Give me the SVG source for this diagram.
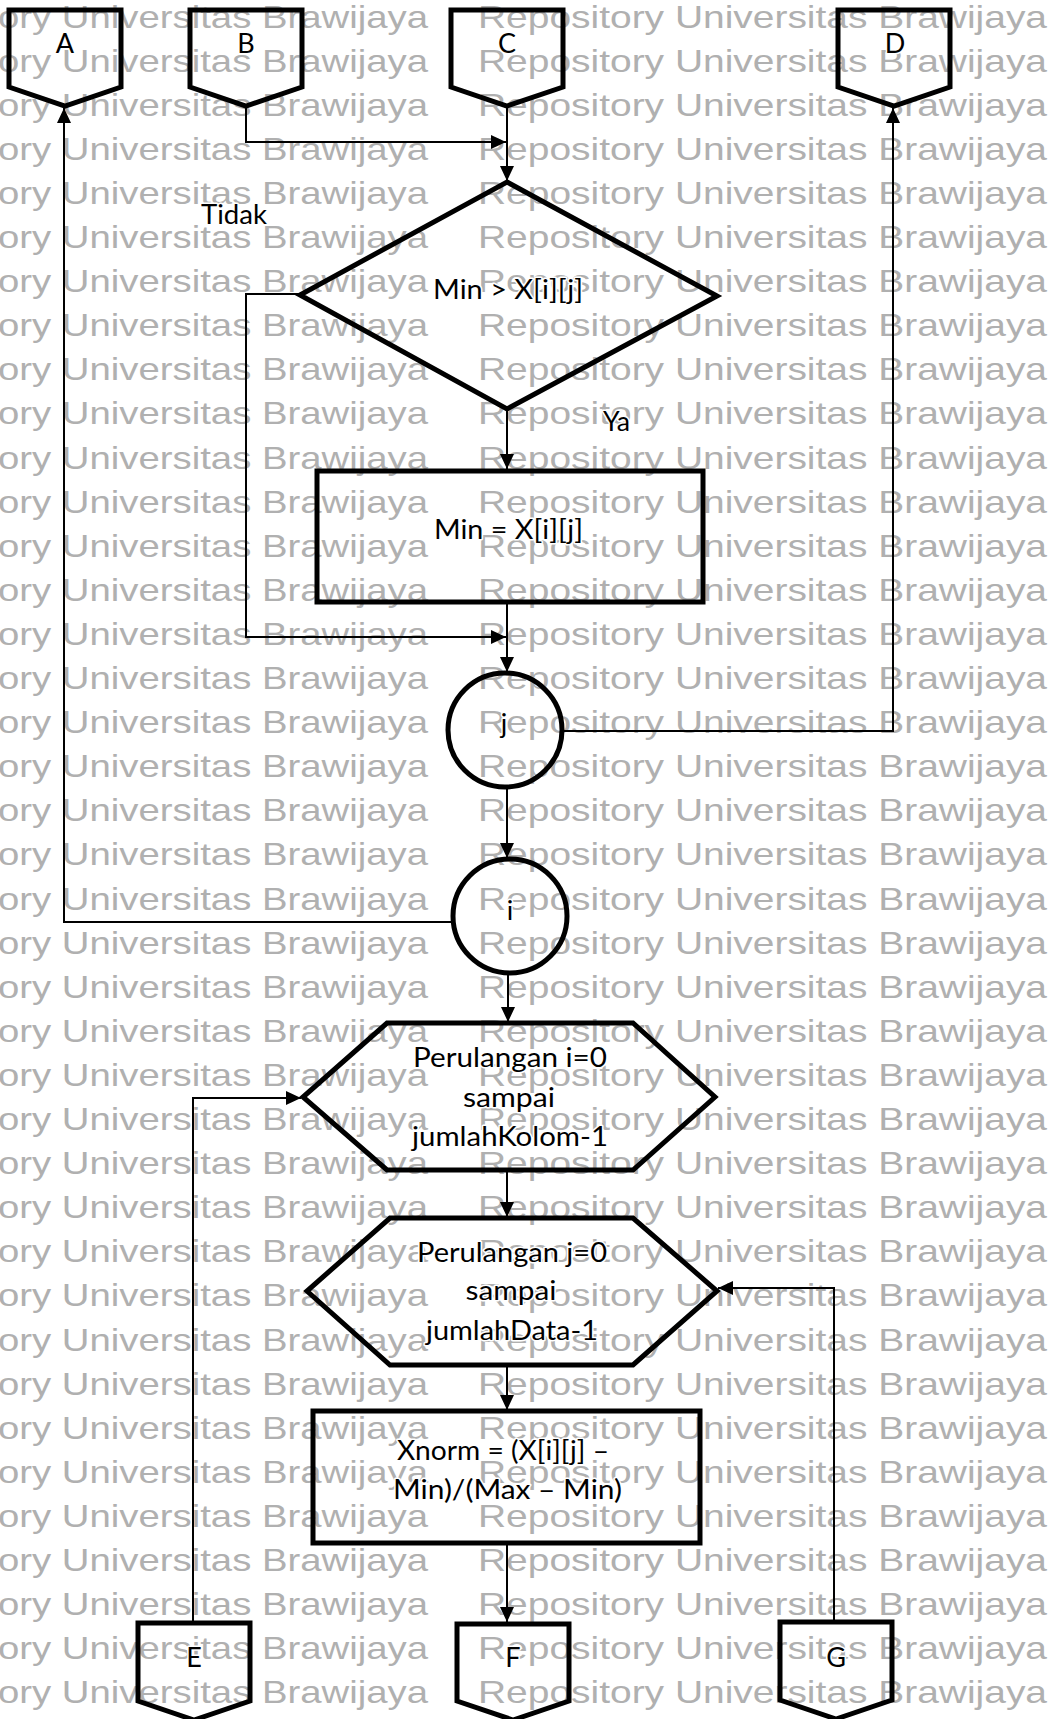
<svg xmlns="http://www.w3.org/2000/svg" width="1049" height="1719" viewBox="0 0 1049 1719">
  <style>
    .shape { fill: none; stroke: #000; stroke-width: 5; stroke-linejoin: miter; }
    .conn { fill: none; stroke: #000; stroke-width: 2; }
    .lbl { font-family: Lato, "Open Sans", sans-serif; font-size: 27px; fill: #000; stroke: #fff; stroke-width: 3; stroke-linejoin: round; paint-order: stroke; }
    .mid { text-anchor: middle; }
    .wm { font-family: "Liberation Sans", Arial, sans-serif; font-size: 32px; fill: #b0b0b0; }
  </style>
  <defs>
    <marker id="arrow" markerUnits="userSpaceOnUse" markerWidth="15" markerHeight="14" refX="15" refY="7" orient="auto">
      <path d="M0,0 L15,7 L0,14 Z" fill="#000"/>
    </marker>
  </defs>
  <rect width="1049" height="1719" fill="#fff"/>

  <!-- repository watermark, behind the chart -->
  <g id="watermark">
    <text class="wm" x="-2" y="27.5" textLength="430" lengthAdjust="spacingAndGlyphs">ory Universitas Brawijaya</text>
    <text class="wm" x="478" y="27.5" textLength="569" lengthAdjust="spacingAndGlyphs">Repository Universitas Brawijaya</text>
    <text class="wm" x="-2" y="71.6" textLength="430" lengthAdjust="spacingAndGlyphs">ory Universitas Brawijaya</text>
    <text class="wm" x="478" y="71.6" textLength="569" lengthAdjust="spacingAndGlyphs">Repository Universitas Brawijaya</text>
    <text class="wm" x="-2" y="115.7" textLength="430" lengthAdjust="spacingAndGlyphs">ory Universitas Brawijaya</text>
    <text class="wm" x="478" y="115.7" textLength="569" lengthAdjust="spacingAndGlyphs">Repository Universitas Brawijaya</text>
    <text class="wm" x="-2" y="159.8" textLength="430" lengthAdjust="spacingAndGlyphs">ory Universitas Brawijaya</text>
    <text class="wm" x="478" y="159.8" textLength="569" lengthAdjust="spacingAndGlyphs">Repository Universitas Brawijaya</text>
    <text class="wm" x="-2" y="203.9" textLength="430" lengthAdjust="spacingAndGlyphs">ory Universitas Brawijaya</text>
    <text class="wm" x="478" y="203.9" textLength="569" lengthAdjust="spacingAndGlyphs">Repository Universitas Brawijaya</text>
    <text class="wm" x="-2" y="248" textLength="430" lengthAdjust="spacingAndGlyphs">ory Universitas Brawijaya</text>
    <text class="wm" x="478" y="248" textLength="569" lengthAdjust="spacingAndGlyphs">Repository Universitas Brawijaya</text>
    <text class="wm" x="-2" y="292.1" textLength="430" lengthAdjust="spacingAndGlyphs">ory Universitas Brawijaya</text>
    <text class="wm" x="478" y="292.1" textLength="569" lengthAdjust="spacingAndGlyphs">Repository Universitas Brawijaya</text>
    <text class="wm" x="-2" y="336.2" textLength="430" lengthAdjust="spacingAndGlyphs">ory Universitas Brawijaya</text>
    <text class="wm" x="478" y="336.2" textLength="569" lengthAdjust="spacingAndGlyphs">Repository Universitas Brawijaya</text>
    <text class="wm" x="-2" y="380.3" textLength="430" lengthAdjust="spacingAndGlyphs">ory Universitas Brawijaya</text>
    <text class="wm" x="478" y="380.3" textLength="569" lengthAdjust="spacingAndGlyphs">Repository Universitas Brawijaya</text>
    <text class="wm" x="-2" y="424.4" textLength="430" lengthAdjust="spacingAndGlyphs">ory Universitas Brawijaya</text>
    <text class="wm" x="478" y="424.4" textLength="569" lengthAdjust="spacingAndGlyphs">Repository Universitas Brawijaya</text>
    <text class="wm" x="-2" y="468.5" textLength="430" lengthAdjust="spacingAndGlyphs">ory Universitas Brawijaya</text>
    <text class="wm" x="478" y="468.5" textLength="569" lengthAdjust="spacingAndGlyphs">Repository Universitas Brawijaya</text>
    <text class="wm" x="-2" y="512.6" textLength="430" lengthAdjust="spacingAndGlyphs">ory Universitas Brawijaya</text>
    <text class="wm" x="478" y="512.6" textLength="569" lengthAdjust="spacingAndGlyphs">Repository Universitas Brawijaya</text>
    <text class="wm" x="-2" y="556.7" textLength="430" lengthAdjust="spacingAndGlyphs">ory Universitas Brawijaya</text>
    <text class="wm" x="478" y="556.7" textLength="569" lengthAdjust="spacingAndGlyphs">Repository Universitas Brawijaya</text>
    <text class="wm" x="-2" y="600.8" textLength="430" lengthAdjust="spacingAndGlyphs">ory Universitas Brawijaya</text>
    <text class="wm" x="478" y="600.8" textLength="569" lengthAdjust="spacingAndGlyphs">Repository Universitas Brawijaya</text>
    <text class="wm" x="-2" y="644.9" textLength="430" lengthAdjust="spacingAndGlyphs">ory Universitas Brawijaya</text>
    <text class="wm" x="478" y="644.9" textLength="569" lengthAdjust="spacingAndGlyphs">Repository Universitas Brawijaya</text>
    <text class="wm" x="-2" y="689" textLength="430" lengthAdjust="spacingAndGlyphs">ory Universitas Brawijaya</text>
    <text class="wm" x="478" y="689" textLength="569" lengthAdjust="spacingAndGlyphs">Repository Universitas Brawijaya</text>
    <text class="wm" x="-2" y="733.1" textLength="430" lengthAdjust="spacingAndGlyphs">ory Universitas Brawijaya</text>
    <text class="wm" x="478" y="733.1" textLength="569" lengthAdjust="spacingAndGlyphs">Repository Universitas Brawijaya</text>
    <text class="wm" x="-2" y="777.2" textLength="430" lengthAdjust="spacingAndGlyphs">ory Universitas Brawijaya</text>
    <text class="wm" x="478" y="777.2" textLength="569" lengthAdjust="spacingAndGlyphs">Repository Universitas Brawijaya</text>
    <text class="wm" x="-2" y="821.3" textLength="430" lengthAdjust="spacingAndGlyphs">ory Universitas Brawijaya</text>
    <text class="wm" x="478" y="821.3" textLength="569" lengthAdjust="spacingAndGlyphs">Repository Universitas Brawijaya</text>
    <text class="wm" x="-2" y="865.4" textLength="430" lengthAdjust="spacingAndGlyphs">ory Universitas Brawijaya</text>
    <text class="wm" x="478" y="865.4" textLength="569" lengthAdjust="spacingAndGlyphs">Repository Universitas Brawijaya</text>
    <text class="wm" x="-2" y="909.5" textLength="430" lengthAdjust="spacingAndGlyphs">ory Universitas Brawijaya</text>
    <text class="wm" x="478" y="909.5" textLength="569" lengthAdjust="spacingAndGlyphs">Repository Universitas Brawijaya</text>
    <text class="wm" x="-2" y="953.6" textLength="430" lengthAdjust="spacingAndGlyphs">ory Universitas Brawijaya</text>
    <text class="wm" x="478" y="953.6" textLength="569" lengthAdjust="spacingAndGlyphs">Repository Universitas Brawijaya</text>
    <text class="wm" x="-2" y="997.7" textLength="430" lengthAdjust="spacingAndGlyphs">ory Universitas Brawijaya</text>
    <text class="wm" x="478" y="997.7" textLength="569" lengthAdjust="spacingAndGlyphs">Repository Universitas Brawijaya</text>
    <text class="wm" x="-2" y="1041.8" textLength="430" lengthAdjust="spacingAndGlyphs">ory Universitas Brawijaya</text>
    <text class="wm" x="478" y="1041.8" textLength="569" lengthAdjust="spacingAndGlyphs">Repository Universitas Brawijaya</text>
    <text class="wm" x="-2" y="1085.9" textLength="430" lengthAdjust="spacingAndGlyphs">ory Universitas Brawijaya</text>
    <text class="wm" x="478" y="1085.9" textLength="569" lengthAdjust="spacingAndGlyphs">Repository Universitas Brawijaya</text>
    <text class="wm" x="-2" y="1130" textLength="430" lengthAdjust="spacingAndGlyphs">ory Universitas Brawijaya</text>
    <text class="wm" x="478" y="1130" textLength="569" lengthAdjust="spacingAndGlyphs">Repository Universitas Brawijaya</text>
    <text class="wm" x="-2" y="1174.1" textLength="430" lengthAdjust="spacingAndGlyphs">ory Universitas Brawijaya</text>
    <text class="wm" x="478" y="1174.1" textLength="569" lengthAdjust="spacingAndGlyphs">Repository Universitas Brawijaya</text>
    <text class="wm" x="-2" y="1218.2" textLength="430" lengthAdjust="spacingAndGlyphs">ory Universitas Brawijaya</text>
    <text class="wm" x="478" y="1218.2" textLength="569" lengthAdjust="spacingAndGlyphs">Repository Universitas Brawijaya</text>
    <text class="wm" x="-2" y="1262.3" textLength="430" lengthAdjust="spacingAndGlyphs">ory Universitas Brawijaya</text>
    <text class="wm" x="478" y="1262.3" textLength="569" lengthAdjust="spacingAndGlyphs">Repository Universitas Brawijaya</text>
    <text class="wm" x="-2" y="1306.4" textLength="430" lengthAdjust="spacingAndGlyphs">ory Universitas Brawijaya</text>
    <text class="wm" x="478" y="1306.4" textLength="569" lengthAdjust="spacingAndGlyphs">Repository Universitas Brawijaya</text>
    <text class="wm" x="-2" y="1350.5" textLength="430" lengthAdjust="spacingAndGlyphs">ory Universitas Brawijaya</text>
    <text class="wm" x="478" y="1350.5" textLength="569" lengthAdjust="spacingAndGlyphs">Repository Universitas Brawijaya</text>
    <text class="wm" x="-2" y="1394.6" textLength="430" lengthAdjust="spacingAndGlyphs">ory Universitas Brawijaya</text>
    <text class="wm" x="478" y="1394.6" textLength="569" lengthAdjust="spacingAndGlyphs">Repository Universitas Brawijaya</text>
    <text class="wm" x="-2" y="1438.7" textLength="430" lengthAdjust="spacingAndGlyphs">ory Universitas Brawijaya</text>
    <text class="wm" x="478" y="1438.7" textLength="569" lengthAdjust="spacingAndGlyphs">Repository Universitas Brawijaya</text>
    <text class="wm" x="-2" y="1482.8" textLength="430" lengthAdjust="spacingAndGlyphs">ory Universitas Brawijaya</text>
    <text class="wm" x="478" y="1482.8" textLength="569" lengthAdjust="spacingAndGlyphs">Repository Universitas Brawijaya</text>
    <text class="wm" x="-2" y="1526.9" textLength="430" lengthAdjust="spacingAndGlyphs">ory Universitas Brawijaya</text>
    <text class="wm" x="478" y="1526.9" textLength="569" lengthAdjust="spacingAndGlyphs">Repository Universitas Brawijaya</text>
    <text class="wm" x="-2" y="1571" textLength="430" lengthAdjust="spacingAndGlyphs">ory Universitas Brawijaya</text>
    <text class="wm" x="478" y="1571" textLength="569" lengthAdjust="spacingAndGlyphs">Repository Universitas Brawijaya</text>
    <text class="wm" x="-2" y="1615.1" textLength="430" lengthAdjust="spacingAndGlyphs">ory Universitas Brawijaya</text>
    <text class="wm" x="478" y="1615.1" textLength="569" lengthAdjust="spacingAndGlyphs">Repository Universitas Brawijaya</text>
    <text class="wm" x="-2" y="1659.2" textLength="430" lengthAdjust="spacingAndGlyphs">ory Universitas Brawijaya</text>
    <text class="wm" x="478" y="1659.2" textLength="569" lengthAdjust="spacingAndGlyphs">Repository Universitas Brawijaya</text>
    <text class="wm" x="-2" y="1703.3" textLength="430" lengthAdjust="spacingAndGlyphs">ory Universitas Brawijaya</text>
    <text class="wm" x="478" y="1703.3" textLength="569" lengthAdjust="spacingAndGlyphs">Repository Universitas Brawijaya</text>
  </g>

  <!-- connectors -->
  <g id="connectors" class="conn" marker-end="url(#arrow)">
    <path d="M246,106 V142 H506"/>
    <path d="M507,106 V181"/>
    <path d="M507,409 V469"/>
    <path d="M300,294 H246 V637 H506"/>
    <path d="M507,602 V672"/>
    <path d="M562,731 H893 V108"/>
    <path d="M507,787 V858"/>
    <path d="M452,922 H64 V108"/>
    <path d="M508,975 V1022"/>
    <path d="M507,1170 V1217"/>
    <path d="M507,1365 V1410"/>
    <path d="M507,1543 V1622"/>
    <path d="M193,1623 V1098 H301"/>
    <path d="M834,1622 V1288 H718"/>
  </g>

  <!-- off-page connectors, top -->
  <g id="node-A">
    <path class="shape" d="M9,10 H121 V87 L65,106 L9,87 Z"/>
    <text class="lbl mid" x="65" y="53">A</text>
  </g>
  <g id="node-B">
    <path class="shape" d="M190,10 H302 V87 L246,106 L190,87 Z"/>
    <text class="lbl mid" x="246" y="53">B</text>
  </g>
  <g id="node-C">
    <path class="shape" d="M451,10 H563 V87 L507,106 L451,87 Z"/>
    <text class="lbl mid" x="507" y="53">C</text>
  </g>
  <g id="node-D">
    <path class="shape" d="M838,10 H950 V87 L894,106 L838,87 Z"/>
    <text class="lbl mid" x="895" y="53">D</text>
  </g>

  <!-- decision -->
  <g id="node-decision">
    <path class="shape" d="M507,182 L717,296 L507,409 L300,295 Z"/>
    <text class="lbl mid" x="508" y="299" textLength="150" lengthAdjust="spacingAndGlyphs">Min &gt; X[i][j]</text>
  </g>
  <text class="lbl" x="201" y="224" textLength="66" lengthAdjust="spacingAndGlyphs">Tidak</text>
  <text class="lbl" x="603" y="431" textLength="27" lengthAdjust="spacingAndGlyphs">Ya</text>

  <!-- assignment -->
  <g id="node-assign">
    <rect class="shape" x="317" y="471" width="386" height="131"/>
    <text class="lbl mid" x="508.5" y="539" textLength="149" lengthAdjust="spacingAndGlyphs">Min = X[i][j]</text>
  </g>

  <!-- loop ends -->
  <g id="node-j">
    <circle class="shape" cx="505" cy="730" r="57"/>
    <text class="lbl mid" x="504" y="733">j</text>
  </g>
  <g id="node-i">
    <circle class="shape" cx="510" cy="916" r="57"/>
    <text class="lbl mid" x="510" y="920">i</text>
  </g>

  <!-- loop headers -->
  <g id="node-loop-i">
    <path class="shape" d="M387,1023 H633 L715,1097 L633,1170 H387 L303,1097 Z"/>
    <text class="lbl mid" x="510" y="1067" textLength="194" lengthAdjust="spacingAndGlyphs">Perulangan i=0</text>
    <text class="lbl mid" x="509" y="1107" textLength="92" lengthAdjust="spacingAndGlyphs">sampai</text>
    <text class="lbl mid" x="510" y="1146" textLength="196" lengthAdjust="spacingAndGlyphs">jumlahKolom-1</text>
  </g>
  <g id="node-loop-j">
    <path class="shape" d="M390,1218 H633 L717,1291 L633,1365 H390 L307,1291 Z"/>
    <text class="lbl mid" x="512" y="1262" textLength="190" lengthAdjust="spacingAndGlyphs">Perulangan j=0</text>
    <text class="lbl mid" x="511" y="1300" textLength="91" lengthAdjust="spacingAndGlyphs">sampai</text>
    <text class="lbl mid" x="512" y="1340" textLength="172" lengthAdjust="spacingAndGlyphs">jumlahData-1</text>
  </g>

  <!-- normalisation -->
  <g id="node-norm">
    <rect class="shape" x="313" y="1411" width="387" height="132"/>
    <text class="lbl mid" x="503" y="1460" textLength="212" lengthAdjust="spacingAndGlyphs">Xnorm = (X[i][j] –</text>
    <text class="lbl mid" x="507.5" y="1499" textLength="229" lengthAdjust="spacingAndGlyphs">Min)/(Max – Min)</text>
  </g>

  <!-- off-page connectors, bottom -->
  <g id="node-E">
    <path class="shape" d="M138,1623 H250 V1701 L194,1720 L138,1701 Z"/>
    <text class="lbl mid" x="194" y="1667">E</text>
  </g>
  <g id="node-F">
    <path class="shape" d="M457,1624 H569 V1701 L513,1720 L457,1701 Z"/>
    <text class="lbl mid" x="513" y="1667">F</text>
  </g>
  <g id="node-G">
    <path class="shape" d="M780,1622 H892 V1700 L836,1719 L780,1700 Z"/>
    <text class="lbl mid" x="836" y="1667">G</text>
  </g>
</svg>
